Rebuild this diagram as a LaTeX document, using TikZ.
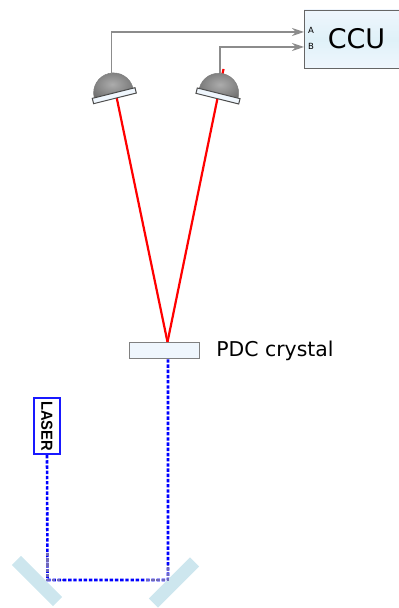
\documentclass[tikz,border=0pt]{standalone}
\usepackage{fontspec}
\setmainfont{DejaVu Sans}
\newfontfamily\labelfont{Liberation Sans}
\usepackage{xcolor}
\usetikzlibrary{arrows.meta, calc}
\definecolor{panelblue}{HTML}{EFF6FD}
\definecolor{panelmid}{HTML}{DFF1F8}
\definecolor{mirrorblue}{HTML}{CDE6EE}
\definecolor{wiregray}{HTML}{8C8C8C}
\definecolor{fadedblue}{HTML}{7068B8}
\definecolor{domelight}{HTML}{ACACAC}
\definecolor{domedark}{HTML}{484848}
\pgfdeclareradialshading{domeshade}{\pgfpoint{0bp}{0bp}}{color(0bp)=(domelight); color(50bp)=(domedark); color(70bp)=(domedark)}

\begin{document}
\begin{tikzpicture}[
    x=1pt, y=1pt,
    ccubox/.style={rectangle, draw=black!60, line width=0.9pt, top color=panelblue, bottom color=panelblue, middle color=panelmid, minimum width=105pt, minimum height=58pt, inner sep=0pt, font=\fontsize{27}{27}\selectfont},
    portlabel/.style={inner sep=0pt, font=\fontsize{8.5}{9}\selectfont},
    plate/.style={rectangle, draw=black!70, fill=panelblue, line width=1pt, minimum width=44pt, minimum height=5.5pt, inner sep=0pt},
    dome/.style={draw=black!50, line width=0.5pt, shading=domeshade},
    crystalbox/.style={rectangle, draw=black!50, fill=panelblue, line width=1pt, minimum width=70pt, minimum height=16pt, inner sep=0pt},
    laserbox/.style={rectangle, draw=blue!90, fill=white, line width=1.6pt, minimum width=56.5pt, minimum height=26.5pt, inner sep=0pt, font=\labelfont\bfseries\fontsize{16}{16}\selectfont},
    mirrorbox/.style={rectangle, fill=mirrorblue, minimum width=58pt, minimum height=13pt, inner sep=0pt},
    wire/.style={-{Stealth[length=12pt, width=8pt]}, draw=wiregray, line width=1.2pt},
    redbeam/.style={draw=red, line width=2.2pt},
    pumpbeam/.style={draw=blue, line width=2.6pt, dash pattern=on 3.4pt off 1.8pt},
    fadedbeam/.style={draw=fadedblue, line width=2.8pt, dash pattern=on 3.4pt off 1.8pt}
]
\useasboundingbox (0,0) rectangle (399,608);

% Coincidence unit with its two inputs
\node[ccubox] (ccu) at (356.5,569) {\raisebox{1pt}{CCU}};
\coordinate (portA) at (304,576);
\coordinate (portB) at (304,561);
\node[portlabel] (labelA) at (311,578) {A};
\node[portlabel] (labelB) at (311,562) {B};

% Beam ends hidden behind the detectors
\coordinate (hitA) at (113,528);
\coordinate (hitB) at (223.5,539);
\coordinate (wireA) at (111.5,534);
\coordinate (wireB) at (220,535);

% Crystal and signal beams
\node[crystalbox] (crystal) at (164,257) {};
\node (crystallabel) at (275,257) [inner sep=0pt, font=\fontsize{20.4}{20}\selectfont] {PDC crystal};
\coordinate (crystalin) at (167.5,266);
\coordinate (crystalout) at (168,249);
\draw[redbeam] (crystalin) -- (hitA);
\draw[redbeam] (crystalin) -- (hitB);

% Detectors
\draw[dome, shift={(113.6,515.1)}, rotate=14] (-20,0) arc (180:0:20) -- cycle;
\draw[dome, shift={(218.7,514.8)}, rotate=-14] (-20,0) arc (180:0:20) -- cycle;
\node[plate, rotate=14] (detA) at (114.3,512.3) {};
\node[plate, rotate=-14] (detB) at (218,512) {};

% Wires to the unit
\draw[wire] (wireA) |- (portA);
\draw[wire] (wireB) |- (portB);

% Pump path
\node[laserbox, rotate=-90] (laser) at (47,182) {\scalebox{.92}[1]{LASER}};
\coordinate (foldL) at (47.5,28);
\coordinate (foldR) at (168,28);
\draw[pumpbeam] (laser.east) -- (foldL) -- (foldR) -- (crystalout);
\node[mirrorbox, rotate=-45] (mirrorL) at (37,27) {};
\node[mirrorbox, rotate=45] (mirrorR) at (174,25.5) {};

% Faded parts next to the mirrors
\draw[fadedbeam] (47.5,55) -- (foldL) -- (63,28);
\draw[fadedbeam] (146,28) -- (foldR) -- (168,43);

\end{tikzpicture}
\end{document}
